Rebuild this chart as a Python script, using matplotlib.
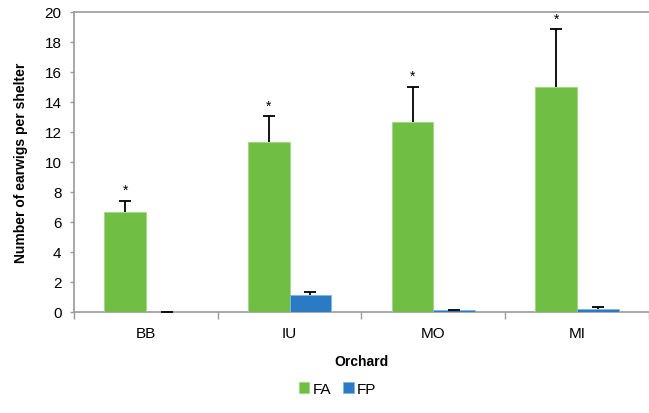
import matplotlib
matplotlib.use("Agg")
import matplotlib.pyplot as plt
import numpy as np

# -- Data --------------------------------------------------
orchards = ["BB", "IU", "MO", "MI"]
fa_mean = [6.67, 11.3, 12.67, 15.0]
fa_err = [0.73, 1.75, 2.35, 3.85]
fp_mean = [0.02, 1.1, 0.1, 0.2]
fp_err = [0.0, 0.2, 0.0, 0.13]
fa_sig = ["*", "*", "*", "*"]

green = "#70BF44"
blue = "#2B7BC4"
axis_grey = "#999999"

plt.rcParams["font.family"] = ["Liberation Sans", "DejaVu Sans"]

fig = plt.figure(figsize=(6.49, 4.14), dpi=100)
ax = fig.add_axes([0.114, 0.244, 0.886, 0.725])

x = np.arange(len(orchards))
w = 0.29
ekw = dict(ecolor="black", elinewidth=1.3, capthick=1.3)
fa_bars = ax.bar(x - w / 2, fa_mean, w, color=green, edgecolor="#9ED67E", linewidth=0.6,
                 yerr=[np.zeros(len(fa_err)), fa_err], capsize=4, error_kw=ekw,
                 label="FA", zorder=3)
fp_bars = ax.bar(x + w / 2, fp_mean, w, color=blue, edgecolor="#7FB4E4", linewidth=0.6,
                 yerr=[np.zeros(len(fp_err)), fp_err], capsize=4, error_kw=ekw,
                 label="FP", zorder=3)

# only upper whiskers: drop the lower caps
for bars in (fa_bars, fp_bars):
    caps = bars.errorbar.lines[1]
    caps[0].set_visible(False)

for xi, m, e, s in zip(x, fa_mean, fa_err, fa_sig):
    ax.text(xi - w / 2, m + e + 0.25, s, ha="center", va="bottom", fontsize=10)

ax.set_xlim(-0.5, len(orchards) - 0.5)
ax.set_ylim(0, 20)
ax.set_yticks(np.arange(0, 21, 2))
ax.set_xticks(x)
ax.set_xticklabels(orchards)
ax.set_xticks(np.arange(-0.5, len(orchards), 1), minor=True)
ax.tick_params(axis="x", which="major", length=0, pad=10, labelsize=11)
ax.tick_params(axis="x", which="minor", length=5, color=axis_grey, width=1)
ax.tick_params(axis="y", length=3, color=axis_grey, width=1, pad=6, labelsize=11)
ax.axhline(20, color=axis_grey, linewidth=1.2, zorder=1, clip_on=False)

for side in ["right", "top"]:
    ax.spines[side].set_visible(False)
for side in ["left", "bottom"]:
    ax.spines[side].set_color(axis_grey)
    ax.spines[side].set_linewidth(1.2)

ax.set_xlabel("Orchard", fontweight="bold", fontsize=10, labelpad=10)
ax.set_ylabel("Number of earwigs per shelter", fontweight="bold", fontsize=10, labelpad=12)

fig.legend(loc="center", bbox_to_anchor=(0.52, 0.058), ncol=2, frameon=False,
           fontsize=11, handlelength=0.7, handleheight=0.7, handletextpad=0.2,
           columnspacing=0.8)

fig.savefig("out.png", dpi=100)
